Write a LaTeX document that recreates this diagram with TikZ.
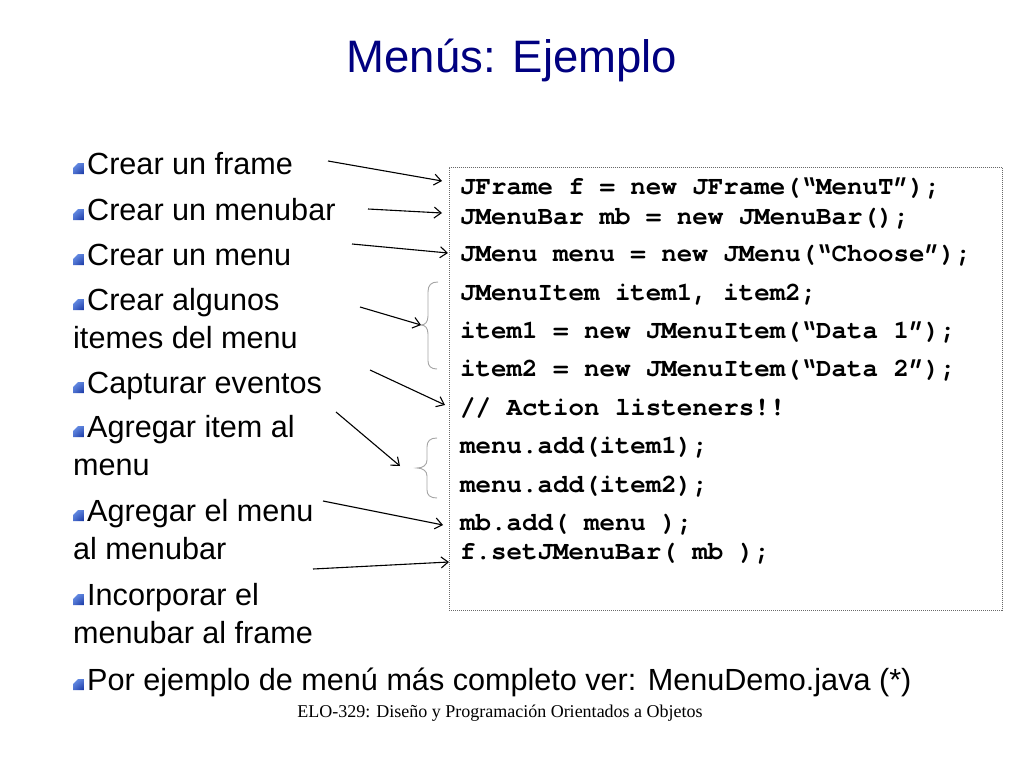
\documentclass[tikz,border=0pt]{standalone}
\usepackage{fontspec}
\setmainfont{Liberation Sans}
\newfontfamily\codefont{texgyrecursor}[Extension=.otf, UprightFont=*-regular, BoldFont=*-bold]
\newfontfamily\footfont{Liberation Serif}
\usetikzlibrary{arrows.meta,shadings}
\definecolor{titleblue}{RGB}{0,0,128}
\definecolor{bracegray}{RGB}{165,165,165}
\definecolor{boxgray}{RGB}{105,105,105}
\definecolor{bullight}{RGB}{110,150,235}
\definecolor{buldark}{RGB}{20,50,160}
\begin{document}
\begin{tikzpicture}[x=1pt,y=-1pt,
  item/.style={anchor=base west, inner sep=0pt, font=\fontsize{30.6}{36}\selectfont},
  code/.style={anchor=base west, inner sep=0pt, font=\codefont\bfseries\fontsize{25.8}{30}\selectfont},
  arr/.style={-{Straight Barb[length=7pt,width=11pt]}, line width=1.1pt},
  brc/.style={draw=bracegray, line width=0.9pt},
  bul/.pic={\shade[upper left=bullight, upper right=bullight!70!buldark, lower left=bullight!60!buldark, lower right=buldark]
     (0,0) -- (11,0) -- (11,-11) -- (5,-11) -- (0,-6) -- cycle;}
]
\useasboundingbox (0,0) rectangle (1024,768);
\fill[white] (0,0) rectangle (1024,768);

% title
\node[anchor=base, inner sep=0pt, text=titleblue, font=\fontsize{45.5}{50}\selectfont] (title) at (512,72) {Menús: Ejemplo};

% bullets
\pic at (73,174) {bul};
\node[item] (t1) at (87,174) {Crear un frame};
\pic at (73,220) {bul};
\node[item] (t2) at (87,220) {Crear un menubar};
\pic at (73,265) {bul};
\node[item] (t3) at (87,265) {Crear un menu};
\pic at (73,310) {bul};
\node[item] (t4a) at (87,310) {Crear algunos};
\node[item] (t4b) at (73,348) {itemes del menu};
\pic at (73,393) {bul};
\node[item] (t5) at (87,393) {Capturar eventos};
\pic at (73,437) {bul};
\node[item] (t6a) at (87,437) {Agregar item al};
\node[item] (t6b) at (73,475) {menu};
\pic at (73,521) {bul};
\node[item] (t7a) at (87,521) {Agregar el menu};
\node[item] (t7b) at (73,559) {al menubar};
\pic at (73,605) {bul};
\node[item] (t8a) at (87,605) {Incorporar el};
\node[item] (t8b) at (73,643) {menubar al frame};
\pic at (73,690) {bul};
\node[item] (t9) at (87,690) {Por ejemplo de menú más completo ver: MenuDemo.java (*)};

% code box
\node[draw=boxgray, line width=0.8pt, dash pattern=on 1pt off 1pt, anchor=north west, inner sep=0pt,
      minimum width=553pt, minimum height=443pt] (codebox) at (449,167) {};
\node[code] (c1) at (460,194) {JFrame f = new JFrame(“MenuT”);};
\node[code] (c2) at (460,224) {JMenuBar mb = new JMenuBar();};
\node[code] (c3) at (460,261) {JMenu menu = new JMenu(“Choose”);};
\node[code] (c4) at (460,300) {JMenuItem item1, item2;};
\node[code] (c5) at (460,338) {item1 = new JMenuItem(“Data 1”);};
\node[code] (c6) at (460,376) {item2 = new JMenuItem(“Data 2”);};
\node[code] (c7) at (460,415) {// Action listeners!!};
\node[code] (c8) at (460,453) {menu.add(item1);};
\node[code] (c9) at (460,492) {menu.add(item2);};
\node[code] (c10) at (460,530) {mb.add( menu );};
\node[code] (c11) at (460,559) {f.setJMenuBar( mb );};

% braces
\coordinate (b1tip) at (421,325);
\draw[brc] (438,282) .. controls (431,282) and (428,285) .. (428,292) -- (428,316)
   .. controls (428,322) and (425,325) .. (b1tip) .. controls (425,325) and (428,328) .. (428,334)
   -- (428,361) .. controls (428,366) and (431,369) .. (437,369);
\coordinate (b2tip) at (417,468);
\draw[brc] (437,438) .. controls (430,438) and (427,441) .. (427,447) -- (427,460)
   .. controls (427,465) and (423,468) .. (b2tip) .. controls (423,468) and (427,471) .. (427,476)
   -- (427,490) .. controls (427,495) and (430,498) .. (437,498);

% arrows
\coordinate (a1s) at (328,161);  \coordinate (a1e) at (442,181);
\coordinate (a2s) at (368,209);  \coordinate (a2e) at (442,213);
\coordinate (a3s) at (352,244);  \coordinate (a3e) at (448,253);
\coordinate (a4s) at (360,307);
\coordinate (a5s) at (370,370);  \coordinate (a5e) at (445,405);
\coordinate (a6s) at (336,412);  \coordinate (a6e) at (400,466);
\coordinate (a7s) at (323,501);  \coordinate (a7e) at (443,525);
\coordinate (a8s) at (313,569);  \coordinate (a8e) at (449,562);
\draw[arr] (a1s) -- (a1e);
\draw[arr] (a2s) -- (a2e);
\draw[arr] (a3s) -- (a3e);
\draw[arr] (a4s) -- (b1tip);
\draw[arr] (a5s) -- (a5e);
\draw[arr] (a6s) -- (a6e);
\draw[arr] (a7s) -- (a7e);
\draw[arr] (a8s) -- (a8e);

% footer
\node[anchor=base, inner sep=0pt, font=\footfont\fontsize{18}{22}\selectfont] (foot) at (500,717)
  {ELO-329: Diseño y Programación Orientados a Objetos};
\end{tikzpicture}
\end{document}
